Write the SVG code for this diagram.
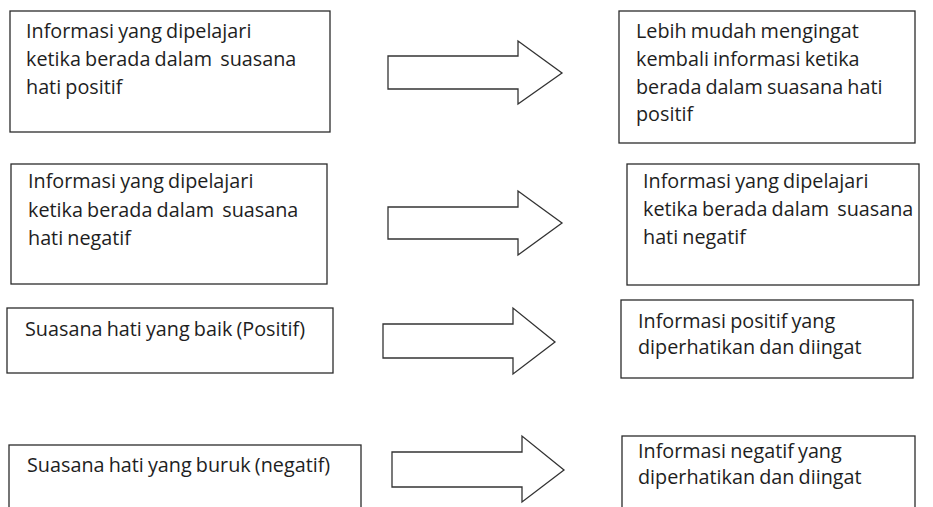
<svg xmlns="http://www.w3.org/2000/svg" width="933" height="507" viewBox="0 0 933 507">
  <style>
    .box { fill: #ffffff; stroke: #2b2b2b; stroke-width: 1.3; }
    .arrow { fill: #ffffff; stroke: #333333; stroke-width: 1.3; stroke-linejoin: miter; }
    .label { font-family: "Open Sans", "Liberation Sans", sans-serif; font-size: 19.8px; fill: #1e1e1e; word-spacing: -1px; white-space: pre; }
  </style>
  <rect width="933" height="507" fill="#ffffff"/>

  <!-- connectors: block arrows -->
  <g id="connectors">
    <polygon class="arrow" points="388,56 518,56 518,41 562,73 518,104 518,89 388,89"/>
    <polygon class="arrow" points="388,207 518,207 518,191 562,223 518,255 518,239 388,239"/>
    <polygon class="arrow" points="383,324 513,324 513,308 555,342 513,374 513,358 383,358"/>
    <polygon class="arrow" points="392,452 522,452 522,436 564,470 522,502 522,487 392,487"/>
  </g>

  <!-- row 1 -->
  <g id="node-info-positive">
    <rect class="box" x="10" y="11" width="320" height="121"/>
    <text class="label" x="26" y="38">Informasi yang dipelajari</text>
    <text class="label" x="26" y="66" xml:space="preserve">ketika berada dalam  suasana</text>
    <text class="label" x="26" y="94">hati positif</text>
  </g>
  <g id="node-recall-positive">
    <rect class="box" x="619" y="11" width="296" height="132"/>
    <text class="label" x="636" y="38">Lebih mudah mengingat</text>
    <text class="label" x="636" y="66">kembali informasi ketika</text>
    <text class="label" x="636" y="94">berada dalam suasana hati</text>
    <text class="label" x="636" y="121">positif</text>
  </g>

  <!-- row 2 -->
  <g id="node-info-negative">
    <rect class="box" x="11" y="164" width="316" height="120"/>
    <text class="label" x="28" y="188">Informasi yang dipelajari</text>
    <text class="label" x="28" y="217" xml:space="preserve">ketika berada dalam  suasana</text>
    <text class="label" x="28" y="245">hati negatif</text>
  </g>
  <g id="node-recall-negative">
    <rect class="box" x="627" y="164" width="292" height="121"/>
    <text class="label" x="643" y="188">Informasi yang dipelajari</text>
    <text class="label" x="643" y="216" xml:space="preserve">ketika berada dalam  suasana</text>
    <text class="label" x="643" y="244">hati negatif</text>
  </g>

  <!-- row 3 -->
  <g id="node-mood-good">
    <rect class="box" x="7" y="308" width="326" height="65"/>
    <text class="label" x="25" y="336">Suasana hati yang baik (Positif)</text>
  </g>
  <g id="node-attend-positive">
    <rect class="box" x="621" y="300" width="292" height="78"/>
    <text class="label" x="638" y="328">Informasi positif yang</text>
    <text class="label" x="638" y="354">diperhatikan dan diingat</text>
  </g>

  <!-- row 4 (cut at the lower edge) -->
  <g id="node-mood-bad">
    <rect class="box" x="9" y="445" width="352" height="80"/>
    <text class="label" x="27" y="472">Suasana hati yang buruk (negatif)</text>
  </g>
  <g id="node-attend-negative">
    <rect class="box" x="622" y="436" width="293" height="90"/>
    <text class="label" x="638" y="458">Informasi negatif yang</text>
    <text class="label" x="638" y="484">diperhatikan dan diingat</text>
  </g>
</svg>
